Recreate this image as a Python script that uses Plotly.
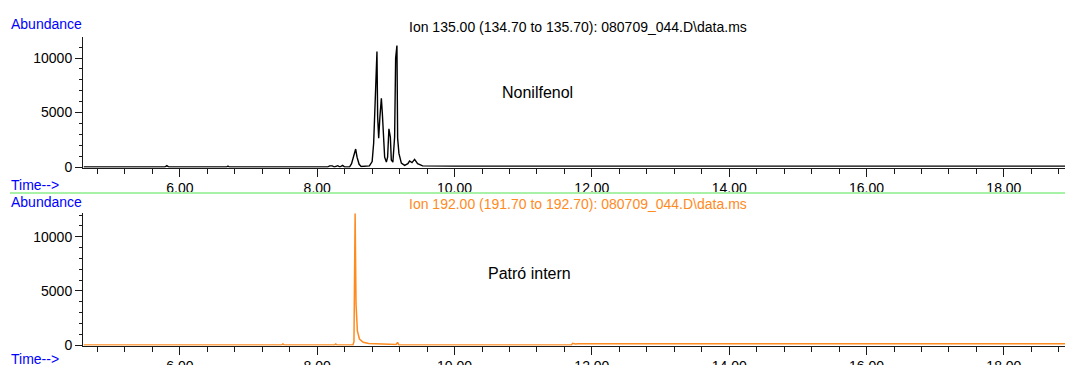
import plotly.graph_objects as go

W, H = 1065, 365

# Ion 135 trace (nonylphenol isomers)
ion135_time = [4.60, 5.78, 5.81, 5.84, 6.68, 6.70, 6.72, 8.15, 8.18, 8.22, 8.25, 8.30, 8.33,
               8.37, 8.40, 8.47, 8.50, 8.53, 8.56, 8.58, 8.61, 8.64, 8.76, 8.80, 8.822,
               8.851, 8.870, 8.880, 8.895, 8.913, 8.934, 8.948, 8.963, 8.982, 9.007, 9.025,
               9.044, 9.065, 9.079, 9.102, 9.127, 9.142, 9.161, 9.171, 9.190, 9.225, 9.273,
               9.32, 9.345, 9.38, 9.418, 9.462, 9.535, 10.0, 18.9]
ion135_abund = [0, 0, 120, 0, 0, 80, 0, 0, 100, 100, 0, 120, 0,
                150, 0, 0, 300, 900, 1650, 900, 250, 50, 100, 500, 2200,
                7250, 10600, 4600, 2650, 4600, 6300, 4950, 2450, 900, 450, 900,
                3500, 2750, 650, 450, 2750, 10000, 11150, 2650, 1250, 350, 150,
                300, 550, 400, 700, 300, 100, 80, 80]

# Ion 192 trace (internal standard)
ion192_time = [4.60, 7.48, 7.50, 7.52, 8.25, 8.27, 8.29, 8.52, 8.535, 8.545, 8.552, 8.565,
               8.585, 8.615, 8.67, 8.75, 8.90, 9.00, 9.15, 9.17, 9.19, 11.70, 11.72, 11.76,
               11.80, 18.9]
ion192_abund = [0, 0, 100, 0, 0, 100, 0, 0, 300, 8100, 12150, 3800,
                1300, 550, 250, 150, 120, 80, 50, 250, 0, 0, 150, 100,
                120, 120]

x_range = [4.589, 18.89]
x_ticks = [6, 8, 10, 12, 14, 16, 18]
y_ticks = [0, 5000, 10000]

top_title = "Ion 135.00 (134.70 to 135.70): 080709_044.D\\data.ms"
bottom_title = "Ion 192.00 (191.70 to 192.70): 080709_044.D\\data.ms"

FONT = "Liberation Sans, Arial, sans-serif"
ORANGE = "#ff8a1e"
BLUE = "#0000ff"
AXIS = "#1a1a1a"


def px_x(p):
    return p / W


def px_y(p):
    return 1 - p / H


def y_domain(zero_px, top_px, ymin, ymax):
    scale = (zero_px - top_px) / ymax
    bottom_px = zero_px - ymin * scale
    return [px_y(bottom_px), px_y(top_px)]


top_ymin, top_ymax = -50, 11930
bot_ymin, bot_ymax = -50, 12200

fig = go.Figure()
fig.add_trace(go.Scatter(x=ion135_time, y=ion135_abund, mode="lines",
                         line=dict(color="#000000", width=1.4), xaxis="x", yaxis="y",
                         showlegend=False, hoverinfo="skip"))
fig.add_trace(go.Scatter(x=ion192_time, y=ion192_abund, mode="lines",
                         line=dict(color=ORANGE, width=1.5), xaxis="x2", yaxis="y2",
                         showlegend=False, hoverinfo="skip"))

xaxis_common = dict(range=x_range, domain=[px_x(83), 1], showline=True, linecolor=AXIS,
                    linewidth=1, ticks="outside", ticklen=8, tickcolor=AXIS, tickwidth=1,
                    tickvals=x_ticks, ticktext=[f"{v:.2f}" for v in x_ticks],
                    showgrid=False, zeroline=False, automargin=False,
                    tickfont=dict(family=FONT, size=14, color="#000000"),
                    minor=dict(ticks="outside", ticklen=5, dtick=0.4, tick0=6.0,
                               tickcolor=AXIS, tickwidth=1, showgrid=False))
yaxis_common = dict(showline=True, linecolor=AXIS, linewidth=1, ticks="outside",
                    ticklen=7, tickcolor=AXIS, tickwidth=1, tickvals=y_ticks,
                    ticktext=[str(v) for v in y_ticks],
                    showgrid=False, zeroline=False, automargin=False,
                    tickfont=dict(family=FONT, size=14, color="#000000"),
                    minor=dict(ticks="outside", ticklen=3, dtick=1000, tick0=0,
                               tickcolor=AXIS, tickwidth=1, showgrid=False))

fig.update_layout(
    template="none",
    width=W, height=H, autosize=False,
    margin=dict(l=0, r=0, t=0, b=0, pad=0),
    paper_bgcolor="#ffffff", plot_bgcolor="#ffffff",
    xaxis=dict(anchor="y", **xaxis_common),
    yaxis=dict(anchor="x", range=[top_ymin, top_ymax],
               domain=y_domain(167, 37, top_ymin, top_ymax), **yaxis_common),
    xaxis2=dict(anchor="y2", **xaxis_common),
    yaxis2=dict(anchor="x2", range=[bot_ymin, bot_ymax],
                domain=y_domain(345, 213, bot_ymin, bot_ymax), **yaxis_common),
)

# separator between the two chromatograms
fig.add_shape(type="line", xref="paper", yref="paper", x0=px_x(10), x1=1,
              y0=px_y(193), y1=px_y(193), line=dict(color="#a8f2a8", width=2))


def label(text, x, y, size, color, xanchor="left"):
    fig.add_annotation(text=text, xref="paper", yref="paper", x=px_x(x), y=px_y(y),
                       xanchor=xanchor, yanchor="middle", showarrow=False,
                       font=dict(family=FONT, size=size, color=color))


label("Abundance", 9, 24, 14, BLUE)
label("Time-->", 9, 185, 14, BLUE)
label("Abundance", 9, 202, 14, BLUE)
label("Time-->", 9, 359, 14, BLUE)
label(top_title, 578, 27, 14, "#000000", xanchor="center")
label(bottom_title, 578, 204, 14, ORANGE, xanchor="center")
label("Nonilfenol", 537, 92, 16, "#000000", xanchor="center")
label("Patró intern", 529, 273, 16, "#000000", xanchor="center")

fig.write_html("out.html")
